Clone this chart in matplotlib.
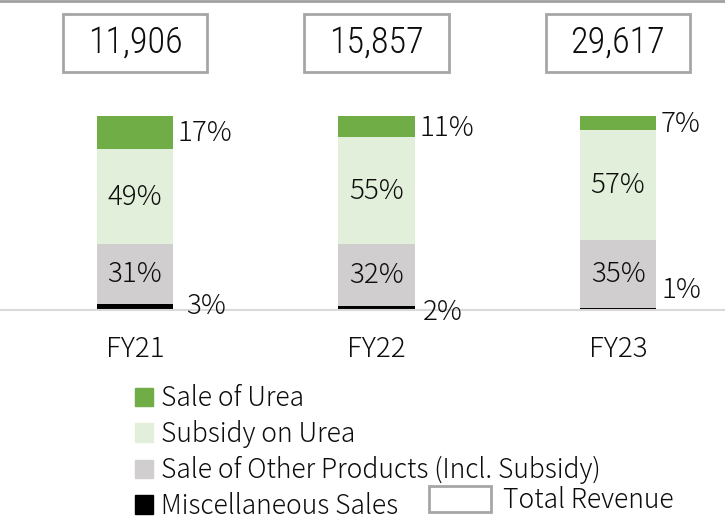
import matplotlib
matplotlib.use("Agg")
import matplotlib.pyplot as plt
from matplotlib.patches import Patch, Rectangle
from matplotlib.lines import Line2D

# revenue mix by fiscal year (% of total revenue)
years = ["FY21", "FY22", "FY23"]
totals = ["11,906", "15,857", "29,617"]
misc_sales = [3, 2, 1]
other_products = [31, 32, 35]
subsidy_urea = [49, 55, 57]
sale_urea = [17, 11, 7]

c_urea = "#70ad47"
c_subsidy = "#e2efda"
c_other = "#d0cece"
c_misc = "#000000"
c_box = "#a6a6a6"
c_txt = "#0d0d0d"

plt.rcParams['font.family'] = ['Noto Sans CJK JP', 'DejaVu Sans']
plt.rcParams['font.weight'] = 'light'

fig = plt.figure(figsize=(7.25, 5.19), dpi=100)
ax = fig.add_axes([0, 209 / 519, 1, 310 / 519])

x = list(range(len(years)))
w = 0.315

ax.bar(x, misc_sales, w, color=c_misc)
bottom2 = misc_sales
ax.bar(x, other_products, w, bottom=bottom2, color=c_other)
bottom3 = [a + b for a, b in zip(misc_sales, other_products)]
ax.bar(x, subsidy_urea, w, bottom=bottom3, color=c_subsidy)
bottom4 = [a + b for a, b in zip(bottom3, subsidy_urea)]
ax.bar(x, sale_urea, w, bottom=bottom4, color=c_urea)

fs = 20
# labels inside the bars
for i in x:
    ax.text(i, bottom2[i] + other_products[i] / 2, f"{other_products[i]}%",
            ha="center", va="center", fontsize=fs, color=c_txt)
    ax.text(i, bottom3[i] + subsidy_urea[i] / 2, f"{subsidy_urea[i]}%",
            ha="center", va="center", fontsize=fs, color=c_txt)
    ax.text(i + w / 2 + 0.02, bottom4[i] + sale_urea[i] / 2 - 0.5, f"{sale_urea[i]}%",
            ha="left", va="center", fontsize=fs, color=c_txt)

# misc labels sit a bit off the bar bottom
misc_offsets = [(0.21, 0.5), (0.19, -2.0), (0.18, 10.0)]
for i in x:
    dx, dy = misc_offsets[i]
    ax.text(i + dx, misc_sales[i] / 2 + dy, f"{misc_sales[i]}%",
            ha="left", va="center", fontsize=fs, color=c_txt)

# total revenue boxes
for i in x:
    ax.add_patch(Rectangle((i - 0.3, 122.7), 0.6, 29.9, facecolor="white",
                           edgecolor=c_box, lw=2, clip_on=False))
    ax.text(i, 137.6, totals[i], ha="center", va="center", fontsize=26,
            family=['Roboto Condensed', 'DejaVu Sans'], fontweight='light',
            color=c_txt)

ax.set_xlim(-135 / 241.5, 590 / 241.5)
ax.set_ylim(0, 310 / 1.94)
ax.set_xticks(x)
ax.set_xticklabels(years, fontsize=fs, color=c_txt)
ax.tick_params(axis="x", length=0, pad=18)
ax.set_yticks([])
for s in ["top", "left", "right"]:
    ax.spines[s].set_visible(False)
ax.spines["bottom"].set_color("#d9d9d9")
ax.spines["bottom"].set_linewidth(1.5)

fig.add_artist(Line2D([0, 1], [0.998, 0.998], color="#a0a0a0", lw=2))

handles = [Patch(color=c_urea), Patch(color=c_subsidy), Patch(color=c_other), Patch(color=c_misc)]
labels = ["Sale of Urea", "Subsidy on Urea", "Sale of Other Products (Incl. Subsidy)", "Miscellaneous Sales"]
leg1 = fig.legend(handles, labels, loc="upper left", bbox_to_anchor=(135 / 725, 1 - 384 / 519),
                  frameon=False, fontsize=19, handlelength=0.7, handleheight=0.7,
                  handletextpad=0.3, labelspacing=0.30, borderpad=0, borderaxespad=0)
leg2 = fig.legend([Patch(facecolor="white", edgecolor=c_box, lw=2)], ["Total Revenue"],
                  loc="upper left", bbox_to_anchor=(429 / 725, 1 - 486 / 519),
                  frameon=False, fontsize=19, handlelength=2.35, handleheight=1.1,
                  handletextpad=0.45, borderpad=0, borderaxespad=0)
for lg in (leg1, leg2):
    for t in lg.get_texts():
        t.set_color(c_txt)

fig.savefig("out.png", dpi=100)
